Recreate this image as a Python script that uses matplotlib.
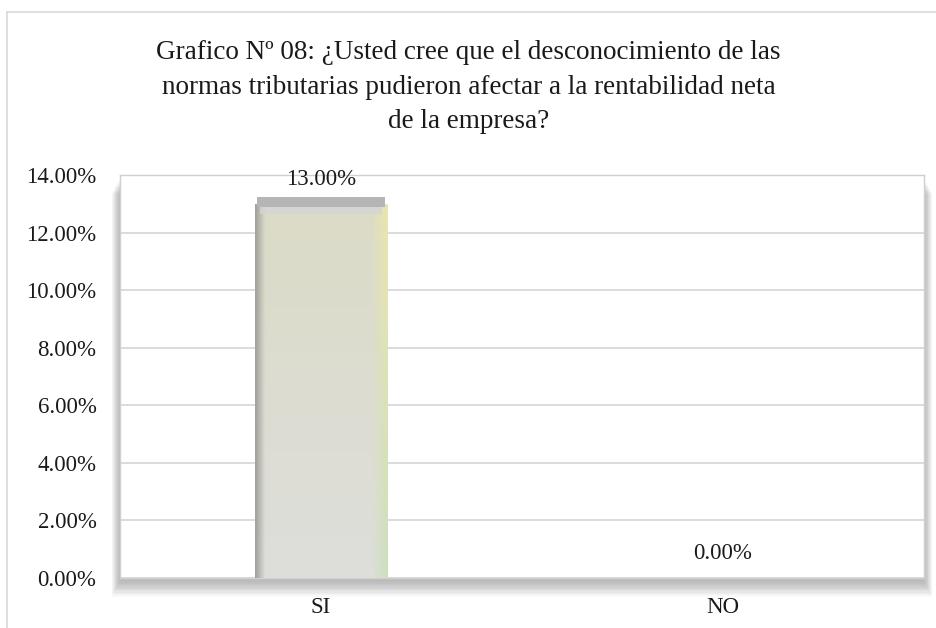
import matplotlib
matplotlib.use("Agg")
import matplotlib.pyplot as plt
import matplotlib.patches as mpatches
from matplotlib.lines import Line2D
from matplotlib.ticker import FuncFormatter
import numpy as np

plt.rcParams['font.family'] = ['Liberation Serif', 'DejaVu Serif']

categorias = ['SI', 'NO']
valores = [13.00, 0.00]
ticks_y = [0, 2, 4, 6, 8, 10, 12, 14]
titulo = ("Grafico Nº 08: ¿Usted cree que el desconocimiento de las\n"
          "normas tributarias pudieron afectar a la rentabilidad neta\n"
          "de la empresa?")

W, H = 937, 628
fig = plt.figure(figsize=(W / 100, H / 100), dpi=100)

# marco exterior (solo se ve a la izquierda y arriba)
fig.add_artist(Line2D([7 / W, 7 / W], [0, 1 - 12 / H], color='#d9d9d9', lw=1.2))
fig.add_artist(Line2D([7 / W, 1], [1 - 12 / H, 1 - 12 / H], color='#d9d9d9', lw=1.2))

left, right, top, bottom = 120 / W, 924 / W, 1 - 175 / H, 1 - 578 / H
ax = fig.add_axes([left, bottom, right - left, top - bottom])

# sombra del area de trazado
for k in range(12):
    g = k + 1
    sh = mpatches.Rectangle((left - g * 0.7 / W, bottom - (3 + g * 1.3) / H),
                            right - left + g * 1.4 / W, top - bottom,
                            transform=fig.transFigure, facecolor='black',
                            edgecolor='none', alpha=0.022, zorder=0)
    fig.add_artist(sh)

ax.set_facecolor('white')
ax.set_zorder(2)

x = np.arange(len(categorias))
bars = ax.bar(x, valores, width=0.33, color='none', edgecolor='none', zorder=3)

# relleno degradado tipo bisel de Excel
ny, nx = 120, 60
t = np.linspace(0, 1, ny)[:, None]        # 0 arriba, 1 abajo
s = np.linspace(0, 1, nx)[None, :]        # 0 izquierda, 1 derecha
top_c = np.array([0.86, 0.86, 0.78])
bot_c = np.array([0.87, 0.87, 0.86])
img = (1 - t)[..., None] * top_c + t[..., None] * bot_c
img = np.broadcast_to(img, (ny, nx, 3)).copy()
# borde derecho amarillo/verde
wr = np.clip((s - 0.88) / 0.12, 0, 1)[..., None]
right_c = (1 - t)[..., None] * np.array([0.92, 0.90, 0.68]) + t[..., None] * np.array([0.80, 0.88, 0.74])
img = img * (1 - wr) + right_c * wr
# borde izquierdo gris
wl = np.clip((0.07 - s) / 0.07, 0, 1)[..., None]
img = img * (1 - wl * 0.9) + np.array([0.62, 0.62, 0.60]) * wl * 0.9
img = np.clip(img, 0, 1)

for b in bars:
    h = b.get_height()
    if h <= 0:
        continue
    x0, w = b.get_x(), b.get_width()
    im = ax.imshow(img, extent=[x0, x0 + w, 0, h], aspect='auto',
                   interpolation='bilinear', zorder=3)
    im.set_clip_path(b)
    cap = mpatches.Rectangle((x0 + w * 0.02, h - 0.12), w * 0.96, 0.35,
                             facecolor='#b5b5b5', edgecolor='none', zorder=4)
    ax.add_patch(cap)
    ax.add_patch(mpatches.Rectangle((x0 + w * 0.04, h - 0.35), w * 0.92, 0.23,
                                    facecolor='#d4d4d4', edgecolor='none',
                                    alpha=0.8, zorder=4))

for b, v in zip(bars, valores):
    ax.annotate(f'{v:.2f}%', (b.get_x() + b.get_width() / 2, v),
                xytext=(0, 10), textcoords='offset points',
                ha='center', va='bottom', fontsize=16.5, color='#1a1a1a',
                zorder=6)

ax.set_xlim(-0.5, 1.5)
ax.set_ylim(0, 14)
ax.set_yticks(ticks_y)
ax.yaxis.set_major_formatter(FuncFormatter(lambda v, p: f'{v:.2f}%'))
ax.set_xticks(x)
ax.set_xticklabels(categorias)
ax.tick_params(axis='y', length=0, pad=17, labelsize=16.5, labelcolor='#1a1a1a')
ax.tick_params(axis='x', length=0, pad=14, labelsize=16.5, labelcolor='#1a1a1a')
ax.grid(axis='y', color='#d9d9d9', lw=1.3, zorder=1)
ax.set_axisbelow(True)
for sp in ax.spines.values():
    sp.set_color('#d0d0d0')
    sp.set_linewidth(1.0)

fig.text(0.5, 1 - 87 / H, titulo, ha='center', va='center', fontsize=19.5,
         color='#1a1a1a', linespacing=1.5)

fig.savefig('out.png', dpi=100)
